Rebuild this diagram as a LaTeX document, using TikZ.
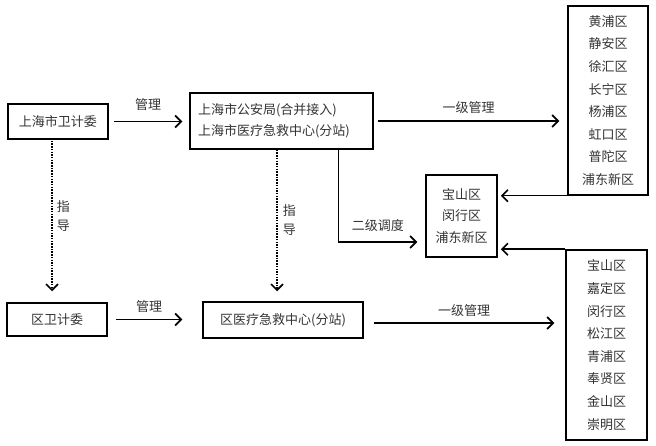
\documentclass[tikz,border=0pt]{standalone}
\usepackage{fontspec}
\newfontfamily\cjk{Noto Sans CJK SC}
\usetikzlibrary{arrows.meta, calc}

\begin{document}
\begin{tikzpicture}[x=1pt,y=1pt,
  box/.style={draw,line width=1.5pt,inner sep=0pt,align=center,
    font=\cjk\fontsize{13}{21}\selectfont,text=black!80},
  listbox/.style={box,font=\cjk\fontsize{13}{22.6}\selectfont},
  lbl/.style={inner sep=0pt,align=center,font=\cjk\fontsize{13}{19}\selectfont,text=black!80},
  link/.style={line width=1.5pt,-{Straight Barb[length=6pt,width=12pt,line width=1.6pt]}},
  guide/.style={link,dash pattern=on 1.5pt off 1.2pt}]
\useasboundingbox (0,0) rectangle (656,445);

% city level
\node[box,minimum width=100,minimum height=35] (wjw) at (58,323.5) {上海市卫计委};
\node[box,align=left,text width=167,inner xsep=8pt,minimum height=56] (city) at (281.5,324)
  {上海市公安局(合并接入)\\上海市医疗急救中心(分站)};
\node[listbox,minimum width=80,minimum height=189] (topR) at (608,344.5)
  {黄浦区\\静安区\\徐汇区\\长宁区\\杨浦区\\虹口区\\普陀区\\浦东新区};
\node[box,font=\cjk\fontsize{13}{21.5}\selectfont,minimum width=71,minimum height=82] (mid) at (461.5,229)
  {宝山区\\闵行区\\浦东新区};

% district level
\node[box,minimum width=100,minimum height=33] (qwjw) at (57,125.5) {区卫计委};
\node[box,minimum width=160,minimum height=36] (qcenter) at (283,125) {区医疗急救中心(分站)};
\node[listbox,minimum width=81,minimum height=190] (botR) at (606.5,100)
  {宝山区\\嘉定区\\闵行区\\松江区\\青浦区\\奉贤区\\金山区\\崇明区};

% management
\draw[link] ([xshift=5]wjw.east) -- node[lbl,above=10pt]{管理} ([xshift=-7]wjw.east -| city.west);
\draw[link] ([xshift=4]city.east) -- node[lbl,above=7pt]{一级管理} ($(topR.west |- city.east)+(-8,0)$);
\draw[link] ([xshift=8]qwjw.east) -- node[lbl,above=6pt]{管理} ($(qwjw.east -| qcenter.west)+(-20,0)$);
\draw[link] ($(qcenter.east)+(10,-3)$) -- node[lbl,above=6pt]{一级管理} ($(botR.west |- qcenter.east)+(-11,-3)$);

% dispatch
\draw[link] (topR.south west) -- ($(mid.east |- topR.south west)+(3,0)$);
\draw[link] (botR.north west) -- ($(mid.east |- botR.north west)+(3,0)$);
\draw[link] ($(city.south west)+(149,0)$) |- node[pos=0.75,lbl,above=10pt]{二级调度} ($(mid.west)+(-8,-26)$);

% guidance
\draw[guide] ($(wjw.south)+(-6,-1)$) -- node[lbl,right=4pt]{指\\导} ($(wjw.south |- qwjw.north)+(-6,11)$);
\draw[guide] ($(city.south)+(-4.5,0)$) -- node[lbl,right=5pt]{指\\导} ($(city.south |- qcenter.north)+(-4.5,10)$);
\end{tikzpicture}
\end{document}
